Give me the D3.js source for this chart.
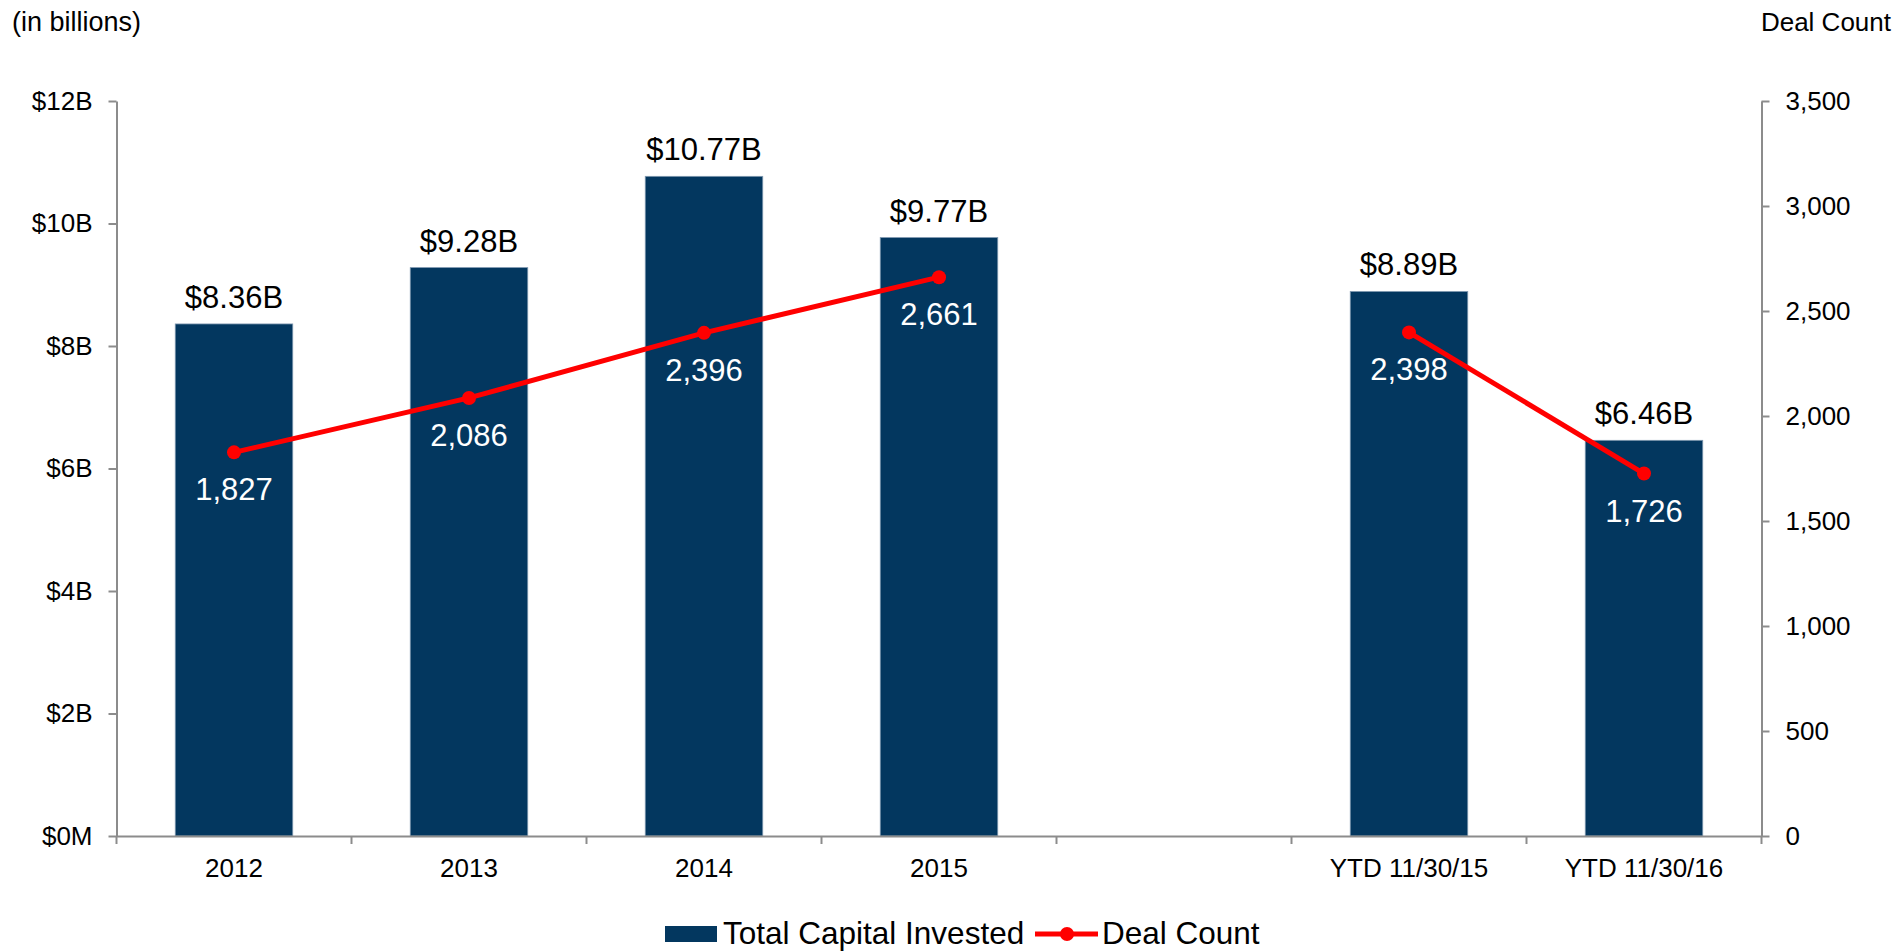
<!DOCTYPE html>
<html>
<head>
<meta charset="utf-8">
<script src="https://cdn.jsdelivr.net/npm/d3@7"></script>
<style>
  html, body { margin: 0; padding: 0; background: #fff; }
  svg { display: block; font-family: "Liberation Sans", Arial, sans-serif; }
</style>
</head>
<body>
<svg id="chart" width="1903" height="951"></svg>
<script>
// ---- data ----
const categories = ["2012", "2013", "2014", "2015", "", "YTD 11/30/15", "YTD 11/30/16"];
const capitalInvested = [8.36, 9.28, 10.77, 9.77, null, 8.89, 6.46];   // $ billions
const dealCount = [1827, 2086, 2396, 2661, null, 2398, 1726];
const leftTicks = [0, 2, 4, 6, 8, 10, 12];
const leftTickLabels = ["$0M", "$2B", "$4B", "$6B", "$8B", "$10B", "$12B"];
const rightTicks = [0, 500, 1000, 1500, 2000, 2500, 3000, 3500];
const seriesNames = ["Total Capital Invested", "Deal Count"];

const barColor = "#03375f";
const lineColor = "#ff0000";
const axisColor = "#8c8c8c";

const svg = d3.select("#chart");
const plotLeft = 116.5, plotRight = 1761.5, plotTop = 101, plotBottom = 836;

const x = d3.scaleBand().domain(categories).range([plotLeft, plotRight])
  .paddingInner(0.5).paddingOuter(0.25);
const yL = d3.scaleLinear().domain([0, 12]).range([plotBottom, plotTop]);
const yR = d3.scaleLinear().domain([0, 3500]).range([plotBottom, plotTop]);

// ---- bars ----
const barData = categories.map((c, i) => ({ c, v: capitalInvested[i] })).filter(d => d.v != null);
svg.append("g").selectAll("rect").data(barData).join("rect")
  .attr("x", d => x(d.c)).attr("width", x.bandwidth())
  .attr("y", d => yL(d.v)).attr("height", d => yL(0) - yL(d.v))
  .attr("fill", barColor).attr("stroke", "#7f98b0").attr("stroke-width", 0.8);

svg.append("g").selectAll("text").data(barData).join("text")
  .attr("x", d => x(d.c) + x.bandwidth() / 2)
  .attr("y", d => yL(d.v) - 16)
  .attr("text-anchor", "middle").attr("font-size", 31).attr("fill", "#000")
  .text(d => "$" + d.v.toFixed(2) + "B");

// ---- axes ----
const axL = svg.append("g").attr("transform", `translate(${plotLeft},0)`)
  .call(d3.axisLeft(yL).tickValues(leftTicks).tickFormat((d, i) => leftTickLabels[i])
    .tickSizeInner(8).tickSizeOuter(0).tickPadding(16));
const axR = svg.append("g").attr("transform", `translate(${plotRight},0)`)
  .call(d3.axisRight(yR).tickValues(rightTicks).tickFormat(d3.format(","))
    .tickSizeInner(8).tickSizeOuter(0).tickPadding(16));
const axB = svg.append("g").attr("transform", `translate(0,${plotBottom})`)
  .call(d3.axisBottom(x).tickSizeInner(0).tickSizeOuter(0).tickPadding(22.5));

[axL, axR, axB].forEach(g => {
  g.selectAll("path.domain").attr("stroke", axisColor).attr("stroke-width", 2);
  g.selectAll(".tick line").attr("stroke", axisColor).attr("stroke-width", 2);
  g.selectAll("text").attr("font-size", 26).attr("fill", "#000")
    .attr("font-family", "'Liberation Sans', Arial, sans-serif");
});

// category boundary ticks on the x axis
const bounds = d3.range(categories.length + 1).map(i => x.range()[0] + i * x.step());
svg.append("g").selectAll("line").data(bounds).join("line")
  .attr("x1", d => d).attr("x2", d => d)
  .attr("y1", plotBottom).attr("y2", plotBottom + 8)
  .attr("stroke", axisColor).attr("stroke-width", 2);

// ---- line ----
const segs = [[0, 1, 2, 3], [5, 6]];
const lineGen = d3.line().x(i => x(categories[i]) + x.bandwidth() / 2).y(i => yR(dealCount[i]));
svg.append("g").selectAll("path").data(segs).join("path")
  .attr("d", lineGen).attr("fill", "none")
  .attr("stroke", lineColor).attr("stroke-width", 5);

const ptData = categories.map((c, i) => ({ c, v: dealCount[i] })).filter(d => d.v != null);
svg.append("g").selectAll("circle").data(ptData).join("circle")
  .attr("cx", d => x(d.c) + x.bandwidth() / 2).attr("cy", d => yR(d.v))
  .attr("r", 7).attr("fill", lineColor);

svg.append("g").selectAll("text").data(ptData).join("text")
  .attr("x", d => x(d.c) + x.bandwidth() / 2)
  .attr("y", d => yR(d.v) + 48)
  .attr("text-anchor", "middle").attr("font-size", 31).attr("fill", "#fff")
  .text(d => d3.format(",")(d.v));

// ---- axis titles ----
svg.append("text").attr("x", 12).attr("y", 31).attr("font-size", 27).attr("fill", "#000")
  .text("(in billions)");
svg.append("text").attr("x", 1891).attr("y", 31).attr("text-anchor", "end")
  .attr("font-size", 26).attr("fill", "#000").text("Deal Count");

// ---- legend ----
const lg = svg.append("g");
lg.append("rect").attr("x", 665).attr("y", 926).attr("width", 52).attr("height", 16).attr("fill", barColor);
lg.append("text").attr("x", 723).attr("y", 944).attr("font-size", 31.5).attr("fill", "#000").text(seriesNames[0]);
lg.append("line").attr("x1", 1035).attr("x2", 1098).attr("y1", 934).attr("y2", 934)
  .attr("stroke", lineColor).attr("stroke-width", 5);
lg.append("circle").attr("cx", 1067).attr("cy", 934).attr("r", 7).attr("fill", lineColor);
lg.append("text").attr("x", 1102).attr("y", 944).attr("font-size", 31.5).attr("fill", "#000").text(seriesNames[1]);
</script>
</body>
</html>
